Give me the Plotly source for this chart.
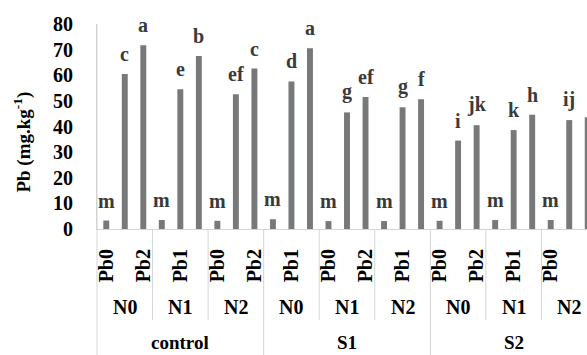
import plotly.graph_objects as go

soils = ["control", "S1", "S2"]
n_levels = ["N0", "N1", "N2"]
pb_levels = ["Pb0", "Pb1", "Pb2"]

# Pb concentration (mg/kg), ordered soil -> N -> Pb
values = [
    3.3, 60.5, 71.7,   3.5, 54.5, 67.5,   3.2, 52.6, 62.6,   # control
    3.8, 57.6, 70.5,   3.1, 45.5, 51.5,   3.1, 47.5, 50.6,   # S1
    3.2, 34.5, 40.5,   3.5, 38.6, 44.6,   3.5, 42.5, 43.6,   # S2
]
letters = [
    "m", "c", "a",   "m", "e", "b",   "m", "ef", "c",
    "m", "d", "a",   "m", "g", "ef",  "m", "g", "f",
    "m", "i", "jk",  "m", "k", "h",   "m", "ij", "hi",
]
y_ticks = [0, 10, 20, 30, 40, 50, 60, 70, 80]

pb_cat = [pb for s in soils for n in n_levels for pb in pb_levels]
xs = list(range(len(values)))

FONT = "Liberation Serif, Times New Roman, DejaVu Serif, serif"
BAR = "#76787a"
SEP = "#d4d4d4"


def f(size, color="black"):
    return dict(family=FONT, size=size, color=color, weight="bold")


fig = go.Figure(go.Bar(x=xs, y=values, width=0.32, marker=dict(color=BAR, line=dict(width=0)),
                       hoverinfo="skip"))

ann = []
for i, (v, t) in enumerate(zip(values, letters)):
    ann.append(dict(x=i, y=v, xref="x", yref="y", text=t, showarrow=False, yanchor="bottom",
                    yshift=7, font=f(20, "#3a3a3a")))

for si in range(len(soils)):
    for ni, n in enumerate(n_levels):
        c = si * 9 + ni * 3 + 1
        ann.append(dict(x=c, y=-0.38, xref="x", yref="paper", text=n, showarrow=False,
                        yanchor="middle", font=f(20)))
    ann.append(dict(x=si * 9 + 4, y=-0.555, xref="x", yref="paper", text=soils[si], showarrow=False,
                    yanchor="middle", font=f(19)))

ann.append(dict(x=-0.152, y=0.424, xref="paper", yref="paper", text="Pb (mg.kg<sup>-1</sup>)",
                textangle=-90, showarrow=False, xanchor="center", yanchor="middle", font=f(19)))

shapes = [dict(type="line", xref="paper", yref="paper", x0=0, x1=0, y0=-0.62, y1=1,
               line=dict(color=SEP, width=1))]
for si in range(len(soils)):
    for ni in range(len(n_levels)):
        b = si * 9 + ni * 3 + 2.5
        y1 = -0.444 if ni < 2 else -0.62
        shapes.append(dict(type="line", xref="x", yref="paper", x0=b, x1=b, y0=0, y1=y1,
                           line=dict(color=SEP, width=1)))

tick_idx = xs[::2]
fig.update_layout(
    width=587, height=355,
    margin=dict(l=97, r=0, t=24, b=126, pad=0),
    paper_bgcolor="white", plot_bgcolor="white",
    showlegend=False,
    annotations=ann, shapes=shapes,
    xaxis=dict(range=[-0.5, 25.96], tickmode="array", tickvals=tick_idx,
               ticktext=[pb_cat[i] for i in tick_idx], tickangle=-90,
               showgrid=False, zeroline=False, showline=True, linecolor=SEP, linewidth=1,
               ticks="", ticklabelstandoff=11, tickfont=f(20)),
    yaxis=dict(range=[0, 80], tickvals=y_ticks, showgrid=False, zeroline=False,
               showline=True, linecolor=SEP, linewidth=1, ticks="", ticklabelstandoff=19,
               tickfont=f(20)),
)

fig.write_html("out.html", config={"displayModeBar": False},
               post_script="document.body.style.margin='0';")
